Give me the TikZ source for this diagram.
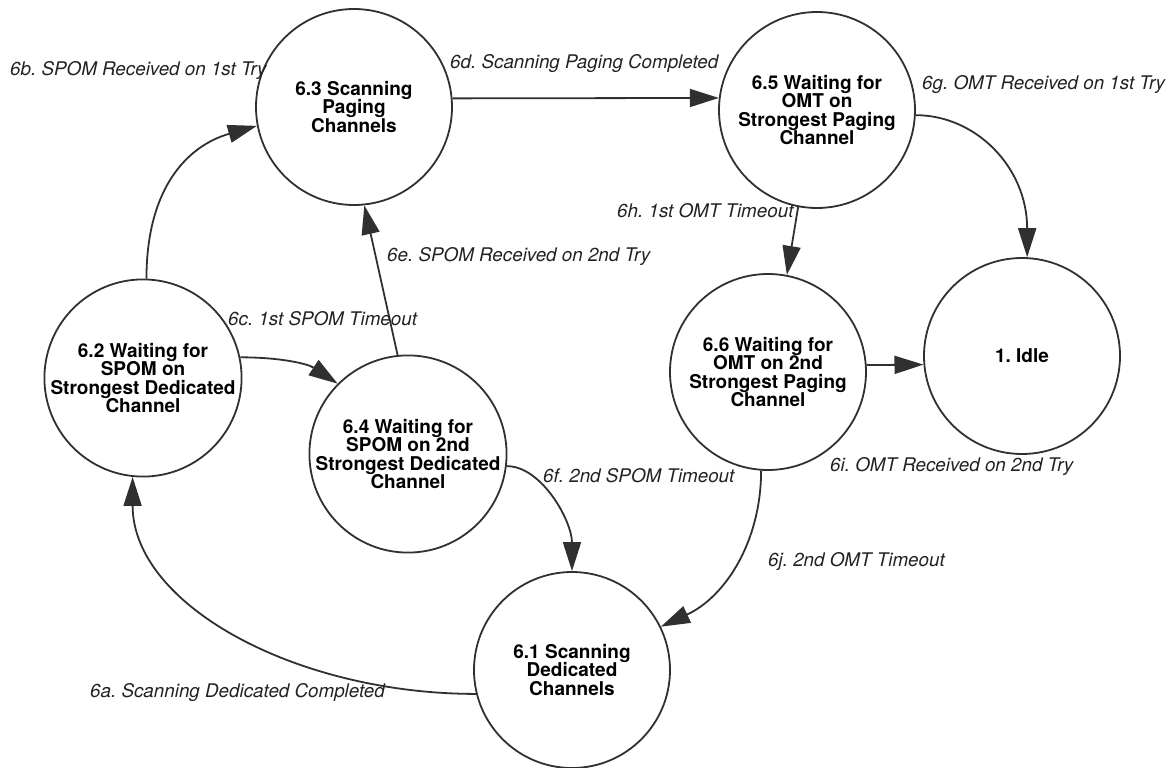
\documentclass[tikz,border=0pt]{standalone}
\usepackage{fontspec}
\setmainfont{TeX Gyre Heros}
\usetikzlibrary{arrows.meta}
\definecolor{ink}{HTML}{303030}
\definecolor{labink}{HTML}{222222}
\frenchspacing
\begin{document}
\begin{tikzpicture}[x=1pt,y=-1pt,
  state/.style={circle, draw=ink, line width=1.8pt, minimum size=196pt,
    inner sep=0pt, align=center, text=black,
    font=\fontsize{19}{18.5}\selectfont\bfseries},
  arr/.style={draw=ink, line width=1.8pt,
    -{Triangle[length=29pt,width=18pt]}},
  lab/.style={anchor=base west, inner sep=0pt, text=labink,
    font=\fontsize{18.8}{18.5}\selectfont\itshape}]

\useasboundingbox (0,0) rectangle (1168,768);

% states
\node[state] (n63) at (354,107) {6.3 Scanning\\Paging\\Channels};
\node[state] (n65) at (817,110) {6.5 Waiting for\\OMT on\\Strongest Paging\\Channel};
\node[state] (n62) at (143,378) {6.2 Waiting for\\SPOM on\\Strongest Dedicated\\Channel};
\node[state] (n64) at (408,454) {6.4 Waiting for\\SPOM on 2nd\\Strongest Dedicated\\Channel};
\node[state] (n66) at (768,372) {6.6 Waiting for\\OMT on 2nd\\Strongest Paging\\Channel};
\node[state] (n1)  at (1022,356) {1. Idle};
\node[state] (n61) at (572,670) {6.1 Scanning\\Dedicated\\Channels};

% transitions
\draw[arr] (n61.194) .. controls +(-180,0) and +(0,128) .. (n62.264);
\draw[arr] (n62.88) .. controls +(0,-90) and +(-70,20) .. (n63.191);
\draw[arr] (n62.12) .. controls +(40,0) and +(-30,-20) .. (n64.135);
\draw[arr] (n63.5) -- (n65.173);
\draw[arr] (n64.96) -- (n63.276);
\draw[arr] (n64.-7) .. controls +(35,0) and +(0,-50) .. (n61.90);
\draw[arr] (n65.-3) .. controls +(60,0) and +(0,-90) .. (n1.87);
\draw[arr] (n65.259) -- (n66.79);
\draw[arr] (n66.4) -- (n1.185);
\draw[arr] (n66.266) .. controls +(0,70) and +(65,-30) .. (n61.26);

% transition labels
\node[lab] (l6a) at (90,697)  {6a. Scanning Dedicated Completed};
\node[lab] (l6b) at (10,76)   {6b. SPOM Received on 1st Try};
\node[lab] (l6c) at (228,325) {6c. 1st SPOM Timeout};
\node[lab] (l6d) at (450,69)  {6d. Scanning Paging Completed};
\node[lab] (l6e) at (387,261) {6e. SPOM Received on 2nd Try};
\node[lab] (l6f) at (543,482) {6f. 2nd SPOM Timeout};
\node[lab] (l6g) at (922,89)  {6g. OMT Received on 1st Try};
\node[lab] (l6h) at (617,217) {6h. 1st OMT Timeout};
\node[lab] (l6i) at (830,471) {6i. OMT Received on 2nd Try};
\node[lab] (l6j) at (768,566) {6j. 2nd OMT Timeout};
\end{tikzpicture}
\end{document}
